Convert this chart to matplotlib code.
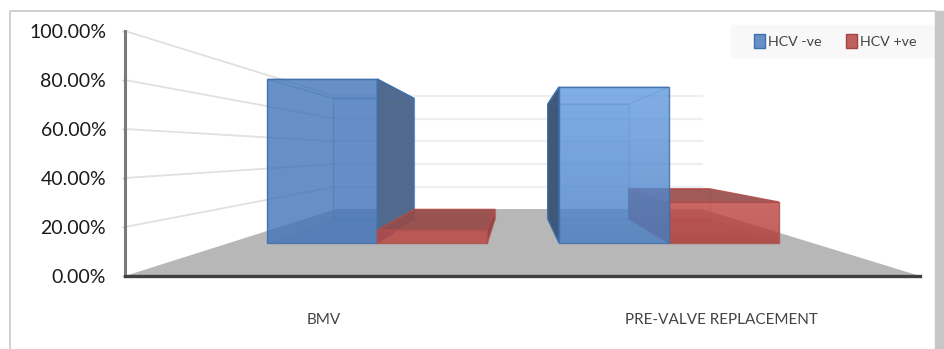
import matplotlib
matplotlib.use("Agg")
import matplotlib.pyplot as plt
import numpy as np
from matplotlib.patches import Patch, Polygon, Rectangle

plt.rcParams['font.family'] = ['Lato', 'DejaVu Sans']

categories = ["BMV", "PRE-VALVE REPLACEMENT"]
series = ["HCV -ve", "HCV +ve"]
hcv_neg = [91.2, 86.8]
hcv_pos = [7.2, 22.8]
yticks = [0, 20, 40, 60, 80, 100]

W, H = 945, 349

# perspective: vanishing point in data units, scale 1 is the front plane
VX, VY = 0.984, 50.6
S_WALL = 0.46
S_FRONT = 0.734
S_BACK = 0.54
BAR_W = 0.377


def proj(x, v, s):
    return (VX + s * (x - VX), VY + s * (v - VY))


def face(ax, pts, color, alpha=1.0, edge=None, z=3):
    p = Polygon(pts, closed=True, facecolor=color, alpha=alpha,
                edgecolor=edge if edge else 'none', linewidth=1, zorder=z, clip_on=False)
    ax.add_patch(p)
    return p


def outline(ax, pts, color, alpha):
    ax.add_patch(Polygon(pts, closed=True, fill=False, edgecolor=color, alpha=alpha,
                         linewidth=1, zorder=3, clip_on=False))


def draw_bar(ax, x0, x1, v, front, side, top, edge, grad=None):
    # back panel and the floor of the box first, front panel last
    fl, fr = proj(x0, v, S_FRONT), proj(x1, v, S_FRONT)
    bl, br = proj(x0, v, S_BACK), proj(x1, v, S_BACK)
    fl0, fr0 = proj(x0, 0, S_FRONT), proj(x1, 0, S_FRONT)
    bl0, br0 = proj(x0, 0, S_BACK), proj(x1, 0, S_BACK)
    face(ax, [bl, br, br0, bl0], front, 0.06)
    outline(ax, [bl, br, br0, bl0], edge, 0.35)
    face(ax, [fl0, fr0, br0, bl0], side, 0.12)
    if (x0 + x1) / 2 < VX:
        face(ax, [fr, br, br0, fr0], side, 1.0, edge)
    else:
        face(ax, [fl, bl, bl0, fl0], side, 1.0, edge)
    if v < VY:
        face(ax, [fl, fr, br, bl], top, 0.9, edge)
    else:
        outline(ax, [fl, fr, br, bl], edge, 0.35)
    p = face(ax, [fl, fr, fr0, fl0], front, 0.8)
    if grad is not None:
        # lighter towards the top of the front panel
        p.set_facecolor('none')
        cm = matplotlib.colors.LinearSegmentedColormap.from_list("g", grad)
        im = ax.imshow(np.linspace(0, 1, 64).reshape(-1, 1), extent=(fl[0], fr[0], fl0[1], fl[1]),
                       cmap=cm, aspect='auto', alpha=0.8, zorder=3, origin='upper')
        im.set_clip_path(p)
    outline(ax, [fl, fr, fr0, fl0], edge, 0.9)


fig = plt.figure(figsize=(W / 100, H / 100), dpi=100)
fig.patch.set_facecolor('white')
ax = fig.add_axes([125 / W, 1 - 276 / H, 795 / W, 245 / H])
ax.set_xlim(0, 2)
ax.set_ylim(0, 100)
ax.patch.set_alpha(0)

# outer frame of the chart area
fig.add_artist(plt.Line2D([10 / W, 10 / W, 935 / W], [0, 1 - 11 / H, 1 - 11 / H], color='#d0d0d0', lw=1.4))
fig.add_artist(Rectangle((935 / W, 0), 10 / W, 1 - 11 / H, transform=fig.transFigure, color='#c6c6c6'))

# floor
face(ax, [proj(0, 0, 1), proj(2, 0, 1), proj(2, 0, S_WALL), proj(0, 0, S_WALL)], '#b7b7b7', z=1)

# gridlines along the left wall and across the back wall
for t in yticks[1:]:
    a, b = proj(0, t, 1), proj(0, t, S_WALL)
    c = proj(2, t, S_WALL)
    ax.plot([a[0], b[0]], [a[1], b[1]], color='#e0e0e0', lw=1.3, zorder=2, clip_on=False)
    ax.plot([b[0], c[0]], [b[1], c[1]], color='#efefef', lw=1.6, zorder=2, clip_on=False)

red = ('#bc4541', '#8f4644', '#964a48', '#b04f4c')
for i, (n, p) in enumerate(zip(hcv_neg, hcv_pos)):
    mid = i + 0.508
    blue = ('#4074b8', '#3f5878' if i == 1 else '#50698d', '#6690c6', '#3f70ad')
    g_b = ['#639ae0', '#4a80c4'] if i == 1 else None
    g_r = ['#be4540', '#b03834'] if i == 1 else None
    bars = [(mid - BAR_W, mid, n, blue, g_b), (mid, mid + BAR_W, p, red, g_r)]
    # whatever sits further from the vanishing point gets painted first
    bars.sort(key=lambda b: -abs((b[0] + b[1]) / 2 - VX))
    for x0, x1, v, col, grad in bars:
        draw_bar(ax, x0, x1, v, *col, grad=grad)
ax.set_xlim(0, 2)
ax.set_ylim(0, 100)

for s in ('top', 'right'):
    ax.spines[s].set_visible(False)
ax.spines['left'].set_color('#7a7a7a')
ax.spines['left'].set_linewidth(2.2)
ax.spines['bottom'].set_color('#404040')
ax.spines['bottom'].set_linewidth(2.4)
ax.spines['bottom'].set_zorder(6)

ax.set_yticks(yticks)
ax.set_yticklabels(["%.2f%%" % t for t in yticks], fontsize=14, color='#1a1a1a')
ax.tick_params(axis='y', length=2, width=1, color='#c8c8c8', pad=11.5)
ax.set_xticks([0.5, 1.5])
ax.set_xticklabels(categories, fontsize=11, color='#444444')
ax.tick_params(axis='x', length=0, pad=27)

# legend strip, top right
ax.add_patch(Rectangle((731 / W, 1 - 57 / H), 207 / W, 32 / H, transform=fig.transFigure,
                       color='#f8f8f8', zorder=5, clip_on=False))
handles = [Patch(facecolor='#6690c6', edgecolor='#3f70ad', label=series[0]),
           Patch(facecolor='#c0605d', edgecolor='#a04543', label=series[1])]
leg = ax.legend(handles=handles, ncols=2, loc='center left',
                bbox_to_anchor=((754 - 125) / 795, (276 - 41) / 245),
                fontsize=10.3, frameon=False, handlelength=0.77, handleheight=1.12, handletextpad=0.2,
                columnspacing=1.75, borderpad=0, borderaxespad=0, labelcolor='#444444')
leg.set_zorder(7)

fig.savefig("out.png", dpi=100)
